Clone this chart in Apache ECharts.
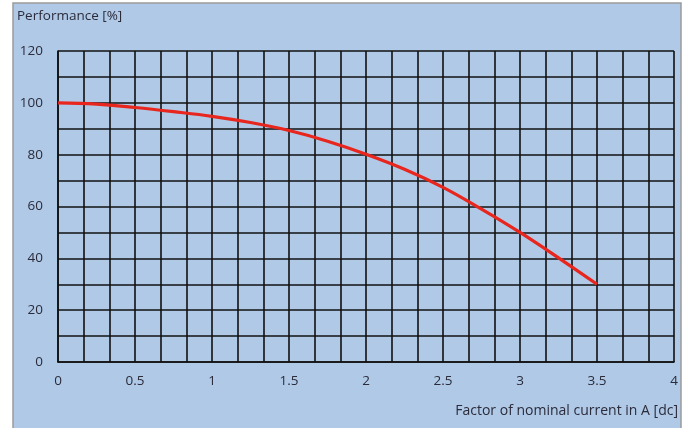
<!DOCTYPE html>
<html><head><meta charset="utf-8">
<script src="https://cdn.jsdelivr.net/npm/echarts@6/dist/echarts.min.js"></script>
<style>html,body{margin:0;padding:0;background:#fff}#c{width:687px;height:428px}</style>
</head><body><div id="c"></div>
<script>
const xValues = [0, 0.25, 0.5, 0.75, 1, 1.25, 1.5, 1.75, 2, 2.25, 2.5, 2.75, 3, 3.25, 3.5];
const performance = [100, 99.5, 98.2, 96.6, 94.8, 92.4, 89.3, 85.2, 80.2, 74.4, 67.4, 59.0, 50.0, 40.2, 30.0];
const yTitle = 'Performance [%]';
const xTitle = 'Factor of nominal current in A [dc]';

const font = '"Open Sans", sans-serif';
const chart = echarts.init(document.getElementById('c'), null, {renderer: 'canvas'});
chart.setOption({
  animation: false,
  backgroundColor: '#ffffff',
  graphic: [{
    type: 'rect', z: -10, silent: true,
    shape: {x: 13, y: 3, width: 668, height: 440},
    style: {fill: '#afc9e7', stroke: '#9a9a9a', lineWidth: 1.5}
  }, {
    type: 'text', left: 17, top: 9,
    style: {text: yTitle, font: '13.5px ' + font, fill: '#2b2b3a'}
  }, {
    type: 'text', right: 9, top: 404,
    style: {text: xTitle, font: '14px ' + font, fill: '#2b2b3a', textAlign: 'right'}
  }],
  grid: {left: 58, right: 13, top: 51, bottom: 66},
  xAxis: {
    type: 'value', min: 0, max: 4, interval: 0.5,
    axisLine: {show: true, lineStyle: {color: '#111', width: 1.6}},
    axisTick: {show: false},
    axisLabel: {color: '#2b2b3a', fontFamily: font, fontSize: 13.5, margin: 12,
      formatter: v => String(v)},
    splitLine: {show: true, lineStyle: {color: '#111', width: 1.6}},
    minorTick: {show: false, splitNumber: 3},
    minorSplitLine: {show: true, lineStyle: {color: '#111', width: 1.6}}
  },
  yAxis: {
    type: 'value', min: 0, max: 120, interval: 20,
    axisLine: {show: true, lineStyle: {color: '#111', width: 1.6}},
    axisTick: {show: false},
    axisLabel: {color: '#2b2b3a', fontFamily: font, fontSize: 13.5, margin: 15},
    splitLine: {show: true, lineStyle: {color: '#111', width: 1.6}},
    minorTick: {show: false, splitNumber: 2},
    minorSplitLine: {show: true, lineStyle: {color: '#111', width: 1.6}}
  },
  series: [{
    type: 'line', smooth: 0.4, symbol: 'none',
    data: xValues.map((x, i) => [x, performance[i]]),
    lineStyle: {color: '#e8261e', width: 3.2}
  }]
});
</script></body></html>
